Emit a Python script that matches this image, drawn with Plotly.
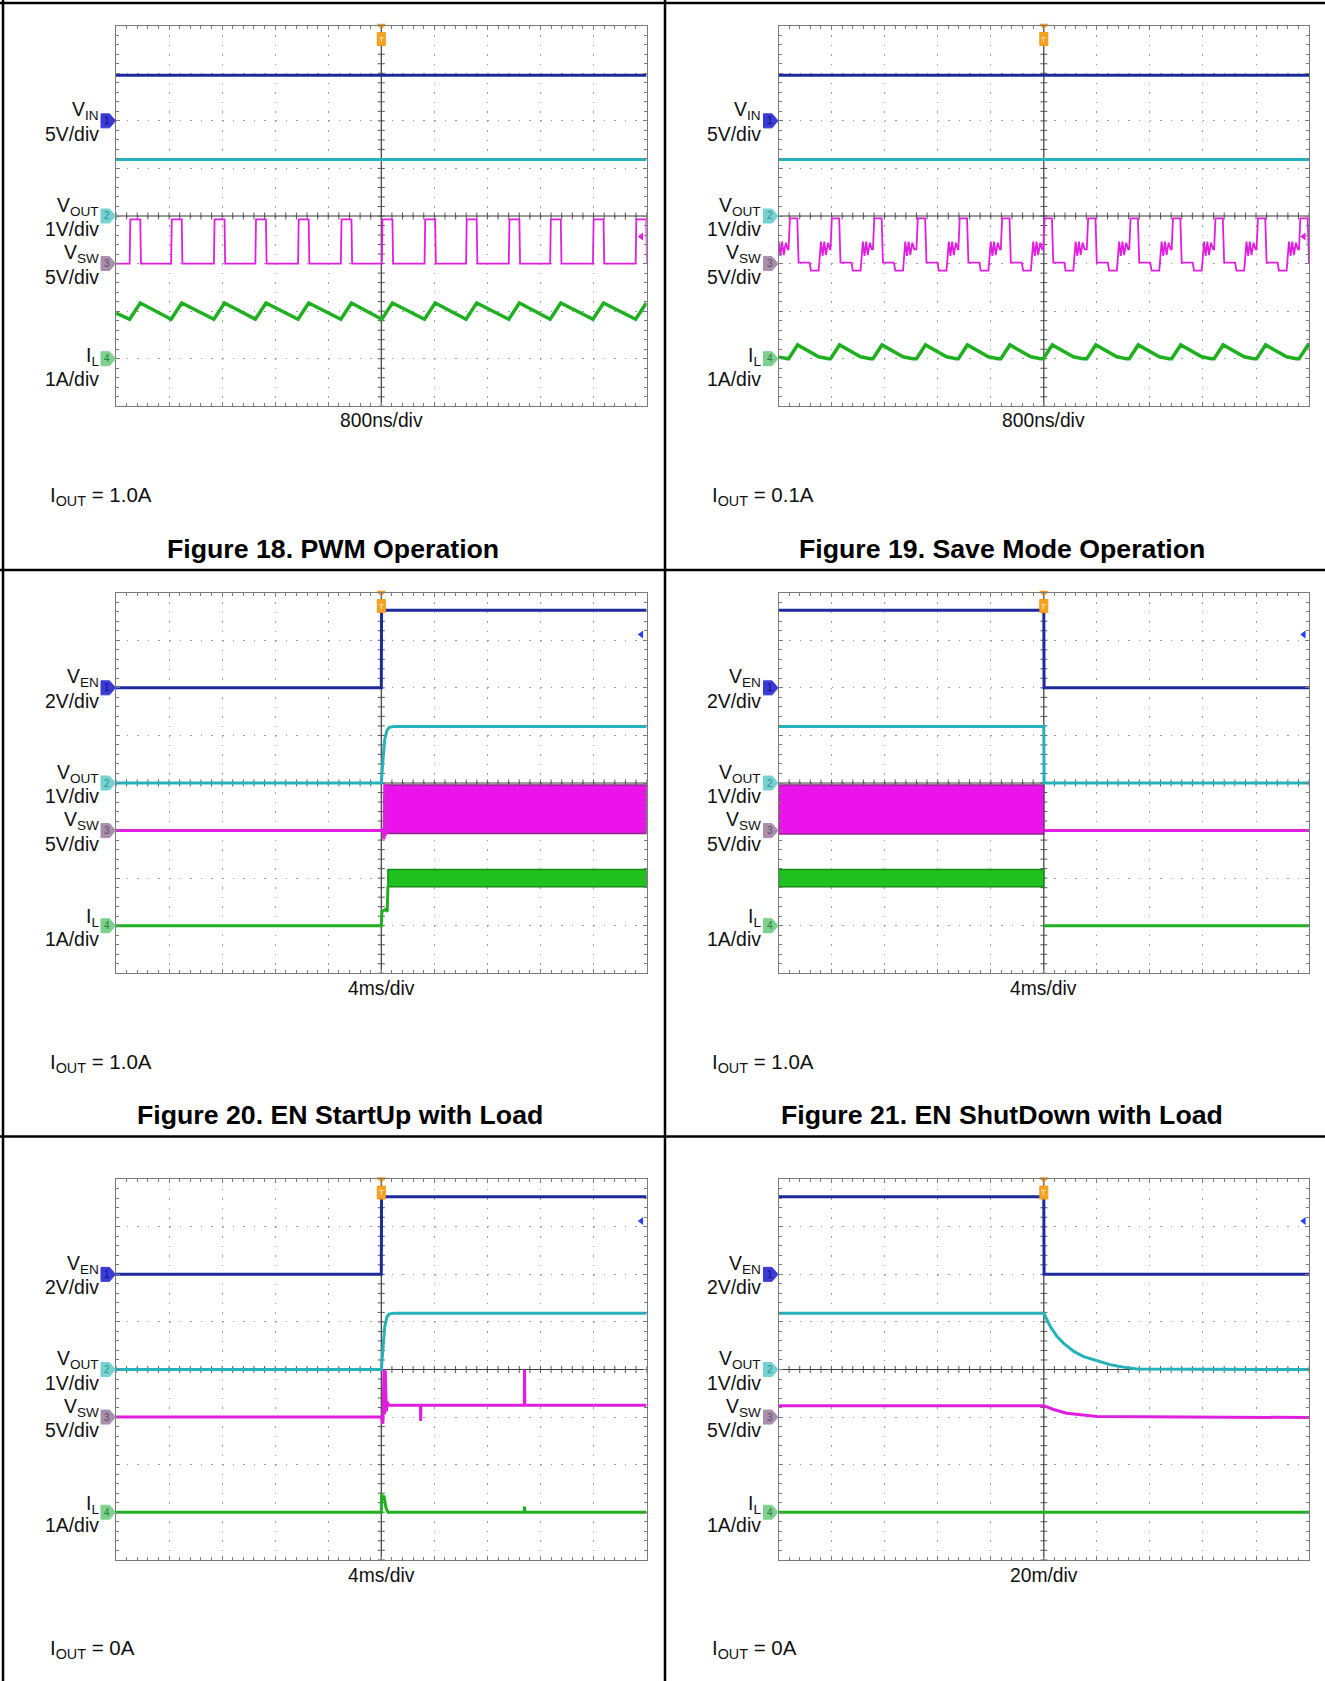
import numpy as np
import plotly.graph_objects as go

# ======================= data =======================
# Figure 18 - PWM operation (800 ns/div, IOUT = 1.0 A)
f18_vin_v = 4.8
f18_vout_v = 1.19
f18_sw_rise_ns = [-3794, -3169, -2524, -1899, -1255, -610, 8, 652, 1278, 1922, 2546, 3191, 3835]
f18_sw_on_ns = 160
f18_sw_levels_v = [0.0, 4.65]          # low, high
f18_il_start_a = 0.96
f18_il_levels_a = [0.83, 1.17]         # valley, peak

# Figure 19 - Save mode operation (800 ns/div, IOUT = 0.1 A)
f19_vin_v = 4.8
f19_vout_v = 1.19
f19_sw_rise_ns = [-4484, -3848, -3216, -2576, -1920, -1288, -648, -8, 648, 1288, 1928, 2568, 3208, 3848]
f19_sw_cycle_ns = [0, 20, 131, 151, 317, 337, 453, 473, 488, 513, 538, 563, 594, 624]
f19_sw_cycle_v = [1.5, 4.75, 4.75, 0.1, 0.1, -0.75, -0.75, 1.0, 2.3, 0.8, 2.3, 0.9, 2.2, 1.5]
f19_il_cycle_ns = [0, 136, 453, 600]
f19_il_cycle_a = [0.0, 0.29, 0.04, 0.0]

# Figure 20 - EN start-up with load (4 ms/div, IOUT = 1.0 A)
f20_ven_t = [-20, 0, 0.02, 20]
f20_ven_v = [0, 0, 3.26, 3.26]
f20_vout_t = [-20, 0, 0.1, 0.26, 0.42, 0.6, 1.0, 20]
f20_vout_v = [0, 0, 0.4, 0.92, 1.1, 1.17, 1.19, 1.19]
f20_sw_t = [-20, 0, 0.1, 0.2, 0.26, 0.3, 0.36, 0.42]
f20_sw_v = [0, 0, 0.2, -0.9, 4.9, -0.6, 4.9, -0.3]
f20_sw_band_t = [0.42, 20]
f20_sw_band_v = [-0.3, 4.8]            # low, high
f20_il_t = [-20, 0, 0.05, 0.3, 0.45, 0.5]
f20_il_a = [0, 0, 0.3, 0.34, 0.3, 0.84]
f20_il_band_t = [0.5, 20]
f20_il_band_a = [0.82, 1.18]

# Figure 21 - EN shut-down with load (4 ms/div, IOUT = 1.0 A)
f21_ven_t = [-20, 0, 0.02, 20]
f21_ven_v = [3.26, 3.26, 0, 0]
f21_vout_t = [-20, 0, 0.02, 20]
f21_vout_v = [1.19, 1.19, 0, 0]
f21_sw_t = [0, 20]
f21_sw_v = [0, 0]
f21_sw_band_t = [-20, 0]
f21_sw_band_v = [-0.35, 4.8]
f21_il_t = [0, 20]
f21_il_a = [0, 0]
f21_il_band_t = [-20, 0]
f21_il_band_a = [0.82, 1.18]

# Figure 22 - EN start-up without load (4 ms/div, IOUT = 0 A)
f22_ven_t = [-20, 0, 0.02, 20]
f22_ven_v = [0, 0, 3.26, 3.26]
f22_vout_t = [-20, 0, 0.1, 0.26, 0.42, 0.6, 1.0, 20]
f22_vout_v = [0, 0, 0.35, 0.9, 1.1, 1.17, 1.18, 1.18]
f22_sw_t = [-20, 0, 0.12, 0.2, 0.25, 0.3, 0.38, 0.45, 0.55, 2.95, 2.97, 2.99, 10.78, 10.8, 10.82, 20]
f22_sw_v = [0, 0, -0.7, 5.0, 0.3, 4.9, 0.6, 1.6, 1.25, 1.25, -0.4, 1.25, 1.25, 5.0, 1.25, 1.25]
f22_il_t = [-20, 0, 0.03, 0.1, 0.2, 0.35, 0.5, 10.78, 10.8, 10.83, 20]
f22_il_a = [0, 0, 0.4, 0.25, 0.35, 0.1, 0, 0, 0.12, 0, 0]

# Figure 23 - EN shut-down without load (20 ms/div, IOUT = 0 A)
f23_ven_t = [-100, 0, 0.1, 100]
f23_ven_v = [3.26, 3.26, 0, 0]
f23_vout_t = [-100, 0, 2.5, 5.0, 7.5, 11.3, 15.0, 20.1, 25.1, 30.1, 35.2, 100]
f23_vout_v = [1.18, 1.18, 0.90, 0.69, 0.55, 0.38, 0.27, 0.18, 0.10, 0.05, 0.01, 0.0]
f23_sw_t = [-100, 0, 3.7, 8.7, 20, 100]
f23_sw_v = [1.2, 1.2, 0.8, 0.4, 0.05, -0.05]
f23_il_t = [-100, 100]
f23_il_a = [0, 0]

# text
titles = ["Figure 18. PWM Operation", "Figure 19. Save Mode Operation",
          "Figure 20. EN StartUp with Load", "Figure 21. EN ShutDown with Load", None, None]
timebase = ["800ns/div", "800ns/div", "4ms/div", "4ms/div", "4ms/div", "20m/div"]
iout = ["1.0A", "0.1A", "1.0A", "1.0A", "0A", "0A"]
tdivs = [800, 800, 4, 4, 4, 20]

# ======================= styling / geometry =======================
W, H = 1325, 1681
FONT = "Liberation Sans, Arial, sans-serif"
C_CH1, C_CH2, C_CH3, C_CH4 = "#1c2a9c", "#26b2ba", "#e01ee0", "#1fb020"
TAG_FILL = ["#3a3ad6", "#74d2d2", "#a88fac", "#7ed08e"]
TAG_TXT = ["#101070", "#3d8a8a", "#5e4a62", "#2f7a3f"]
GND = [6, 4, 3, 1]          # ground level (div) of channels 1..4
PLOT_W, PLOT_H = 530.6, 380.6
lefts = [116.0, 778.5] * 3
tops = [25.7, 25.7, 592.7, 592.7, 1179.2, 1179.2]
col_text = [(50.4, 333.3), (711.7, 1002.0)]
row_text = [(421, 495.7, 549.4), (421, 495.7, 549.4), (988.8, 1062.5, 1115.3),
            (988.8, 1062.5, 1115.3), (1575.5, 1649.3, None), (1575.5, 1649.3, None)]
title_cx = [333.3, 1002.0, 340.0, 1002.0, 0, 0]

def px(x):
    return x / W

def py(y):
    return 1 - y / H

fig = go.Figure()
shapes, annos = [], []

def add_line(i, t, v, gnd, vdiv, color, width=3.0):
    x = 5 + np.asarray(t, float) / tdivs[i]
    y = gnd + np.asarray(v, float) / vdiv
    fig.add_trace(go.Scatter(x=x, y=y, mode="lines", line=dict(color=color, width=width),
                             xaxis=f"x{i+1}", yaxis=f"y{i+1}", hoverinfo="skip"))

def add_band(i, t, lohi, gnd, vdiv, fill, edge):
    t0, t1 = 5 + t[0] / tdivs[i], 5 + t[1] / tdivs[i]
    lo, hi = gnd + lohi[0] / vdiv, gnd + lohi[1] / vdiv
    fig.add_trace(go.Scatter(x=[t0, t1, t1, t0, t0], y=[lo, lo, hi, hi, lo], mode="lines",
                             fill="toself", fillcolor=fill, line=dict(color=edge, width=1.5),
                             xaxis=f"x{i+1}", yaxis=f"y{i+1}", hoverinfo="skip"))

for i in range(6):
    L, T = lefts[i], tops[i]
    xa = dict(domain=[px(L), px(L + PLOT_W)], range=[0, 10], showticklabels=False,
              showgrid=True, gridcolor="#9a9a9a", gridwidth=1, griddash="1.5px,8px",
              dtick=1, tick0=0, ticks="inside", ticklen=4, tickcolor="#7a7a7a",
              showline=True, linecolor="#7a7a7a", linewidth=1.2, mirror="ticks",
              zeroline=False, fixedrange=True,
              minor=dict(dtick=0.2, ticks="inside", ticklen=3, tickcolor="#7a7a7a", showgrid=False),
              anchor=f"y{i+1}")
    ya = dict(domain=[py(T + PLOT_H), py(T)], range=[0, 8], showticklabels=False,
              showgrid=True, gridcolor="#9a9a9a", gridwidth=1, griddash="1.5px,9.1px",
              dtick=1, tick0=0, ticks="inside", ticklen=4, tickcolor="#7a7a7a",
              showline=True, linecolor="#7a7a7a", linewidth=1.2, mirror="ticks",
              zeroline=False, fixedrange=True,
              minor=dict(dtick=0.2, ticks="inside", ticklen=3, tickcolor="#7a7a7a", showgrid=False),
              anchor=f"x{i+1}")
    fig.layout[f"xaxis{i+1}"] = xa
    fig.layout[f"yaxis{i+1}"] = ya
    xr, yr = f"x{i+1}", f"y{i+1}"

    # centre cross with ticks
    shapes.append(dict(type="line", xref=xr, yref=yr, x0=5, x1=5, y0=0, y1=8,
                       line=dict(color="#3a3a3a", width=1.2), layer="between"))
    shapes.append(dict(type="line", xref=xr, yref=yr, x0=0, x1=10, y0=4, y1=4,
                       line=dict(color="#3a3a3a", width=1.2), layer="between"))
    tx = np.arange(0, 10.001, 0.2)
    ty = np.arange(0, 8.001, 0.2)
    fig.add_trace(go.Scatter(x=tx, y=np.full_like(tx, 4.0), mode="markers",
                             marker=dict(symbol="line-ns", size=5, line=dict(color="#555555", width=1)),
                             xaxis=xr, yaxis=yr, hoverinfo="skip"))
    fig.add_trace(go.Scatter(x=np.full_like(ty, 5.0), y=ty, mode="markers",
                             marker=dict(symbol="line-ew", size=5, line=dict(color="#555555", width=1)),
                             xaxis=xr, yaxis=yr, hoverinfo="skip"))

    # channel tags + labels
    ch1_scale = 5 if i < 2 else 2
    names = ["V<sub>IN</sub>" if i < 2 else "V<sub>EN</sub>", "V<sub>OUT</sub>", "V<sub>SW</sub>", "I<sub>L</sub>"]
    scales = [f"{ch1_scale}V/div", "1V/div", "5V/div", "1A/div"]
    for c in range(4):
        tag_y = T + (8 - GND[c]) * PLOT_H / 8
        shapes.append(dict(type="path", xref="paper", yref="paper", xsizemode="pixel", ysizemode="pixel",
                           xanchor=px(L), yanchor=py(tag_y),
                           path="M -15,-7 L -6.5,-7 L -0.5,0 L -6.5,7 L -15,7 Z",
                           fillcolor=TAG_FILL[c], line=dict(color=TAG_FILL[c], width=1), layer="above"))
        annos.append(dict(xref="paper", yref="paper", x=px(L - 9), y=py(tag_y), text=str(c + 1),
                          showarrow=False, xanchor="center", yanchor="middle",
                          font=dict(family=FONT, size=10, color=TAG_TXT[c])))
        up, dn = (10, -13)
        if c == 3:
            up, dn = ((2, -20) if i < 2 else (8, -13))
        annos.append(dict(xref="paper", yref=yr, x=px(L - 15.5), y=GND[c], yshift=up, text=names[c],
                          showarrow=False, xanchor="right", yanchor="middle",
                          font=dict(family=FONT, size=19.4, color="#111111")))
        annos.append(dict(xref="paper", yref=yr, x=px(L - 15.5), y=GND[c], yshift=dn, text=scales[c],
                          showarrow=False, xanchor="right", yanchor="middle",
                          font=dict(family=FONT, size=19.4, color="#111111")))

    # trigger marker (orange) at top centre
    fig.add_trace(go.Scatter(x=[5], y=[8], mode="markers", cliponaxis=False,
                             marker=dict(symbol="triangle-down", size=8, color="#f39a1a"),
                             xaxis=xr, yaxis=yr, hoverinfo="skip"))
    shapes.append(dict(type="rect", xref=xr, yref=yr, xsizemode="pixel", ysizemode="pixel",
                       xanchor=5, yanchor=7.72, x0=-4, x1=4, y0=-6.5, y1=6.5,
                       fillcolor="#f7a322", line=dict(color="#f39a1a", width=1), layer="above"))
    annos.append(dict(xref=xr, yref=yr, x=5, y=7.72, text="T", showarrow=False,
                      font=dict(family=FONT, size=8, color="#fff2dc")))

    # trigger level arrow at right edge
    lvl, lc = (3.57, C_CH3) if i < 2 else (7.12, "#2a3cff")
    fig.add_trace(go.Scatter(x=[9.9], y=[lvl], mode="markers",
                             marker=dict(symbol="triangle-left", size=7, color=lc),
                             xaxis=xr, yaxis=yr, hoverinfo="skip"))

    # texts
    tb_y, io_y, ti_y = row_text[i]
    annos.append(dict(xref="paper", yref="paper", x=px(L + PLOT_W / 2), y=py(tb_y), text=timebase[i],
                      showarrow=False, xanchor="center", yanchor="middle",
                      font=dict(family=FONT, size=19.3, color="#111111")))
    annos.append(dict(xref="paper", yref="paper", x=px(col_text[i % 2][0] - 2), y=py(io_y),
                      text=f"I<sub>OUT</sub> = {iout[i]}", showarrow=False, xanchor="left", yanchor="middle",
                      font=dict(family=FONT, size=20.5, color="#111111")))
    if titles[i]:
        annos.append(dict(xref="paper", yref="paper", x=px(title_cx[i]), y=py(ti_y),
                          text=f"<b>{titles[i]}</b>", showarrow=False, xanchor="center", yanchor="middle",
                          font=dict(family=FONT, size=26.7, color="#000000")))

# ----------------- waveforms -----------------
# Fig 18
i = 0
add_line(i, [-4000, 4000], [f18_vin_v] * 2, GND[0], 5, C_CH1)
add_line(i, [-4000, 4000], [f18_vout_v] * 2, GND[1], 1, C_CH2)
lo, hi = f18_sw_levels_v
st, sv = [-4000], [lo]
for r in f18_sw_rise_ns:
    st += [r, r + 10, r + f18_sw_on_ns, r + f18_sw_on_ns + 10]
    sv += [lo, hi, hi, lo]
add_line(i, st, sv, GND[2], 5, C_CH3, 1.8)
it, iv = [-4000], [f18_il_start_a]
for r in f18_sw_rise_ns:
    it += [r, r + f18_sw_on_ns]
    iv += [f18_il_levels_a[0], f18_il_levels_a[1]]
add_line(i, it, iv, GND[3], 1, C_CH4, 3.5)

# Fig 19
i = 1
add_line(i, [-4000, 4000], [f19_vin_v] * 2, GND[0], 5, C_CH1)
add_line(i, [-4000, 4000], [f19_vout_v] * 2, GND[1], 1, C_CH2)
st, sv, it, iv = [], [], [], []
for r in f19_sw_rise_ns:
    st += [r + d for d in f19_sw_cycle_ns]
    sv += f19_sw_cycle_v
    it += [r + d for d in f19_il_cycle_ns]
    iv += f19_il_cycle_a
add_line(i, st, sv, GND[2], 5, C_CH3, 1.8)
add_line(i, it, iv, GND[3], 1, C_CH4, 3.5)

# Fig 20
i = 2
add_band(i, f20_sw_band_t, f20_sw_band_v, GND[2], 5, "#ec12ec", "#8a2a8a")
add_band(i, f20_il_band_t, f20_il_band_a, GND[3], 1, "#1fc21f", "#178a17")
add_line(i, f20_ven_t, f20_ven_v, GND[0], 2, C_CH1)
add_line(i, f20_vout_t, f20_vout_v, GND[1], 1, C_CH2)
add_line(i, f20_sw_t, f20_sw_v, GND[2], 5, C_CH3)
add_line(i, f20_il_t, f20_il_a, GND[3], 1, C_CH4)

# Fig 21
i = 3
add_band(i, f21_sw_band_t, f21_sw_band_v, GND[2], 5, "#ec12ec", "#8a2a8a")
add_band(i, f21_il_band_t, f21_il_band_a, GND[3], 1, "#1fc21f", "#178a17")
add_line(i, f21_ven_t, f21_ven_v, GND[0], 2, C_CH1)
add_line(i, f21_vout_t, f21_vout_v, GND[1], 1, C_CH2)
add_line(i, f21_sw_t, f21_sw_v, GND[2], 5, C_CH3)
add_line(i, f21_il_t, f21_il_a, GND[3], 1, C_CH4)

# Fig 22
i = 4
add_line(i, f22_ven_t, f22_ven_v, GND[0], 2, C_CH1)
add_line(i, f22_vout_t, f22_vout_v, GND[1], 1, C_CH2)
add_line(i, f22_sw_t, f22_sw_v, GND[2], 5, C_CH3)
add_line(i, f22_il_t, f22_il_a, GND[3], 1, C_CH4)

# Fig 23
i = 5
add_line(i, f23_ven_t, f23_ven_v, GND[0], 2, C_CH1)
add_line(i, f23_vout_t, f23_vout_v, GND[1], 1, C_CH2)
add_line(i, f23_sw_t, f23_sw_v, GND[2], 5, C_CH3)
add_line(i, f23_il_t, f23_il_a, GND[3], 1, C_CH4)

# ----------------- table borders -----------------
def pline(x0, y0, x1, y1):
    shapes.append(dict(type="line", xref="paper", yref="paper", x0=px(x0), y0=py(y0), x1=px(x1), y1=py(y1),
                       line=dict(color="#000000", width=2.5), layer="above"))

pline(3, 0, 3, H)
pline(0, 3, W, 3)
pline(665, 0, 665, H)
pline(0, 570, W, 570)
pline(0, 1136.5, W, 1136.5)

fig.update_layout(width=W, height=H, margin=dict(l=0, r=0, t=0, b=0), autosize=False,
                  paper_bgcolor="white", plot_bgcolor="white", showlegend=False,
                  shapes=shapes, annotations=annos)

fig.write_html("out.html", include_plotlyjs=True, full_html=True,
               config={"displayModeBar": False},
               post_script="document.body.style.margin='0';document.body.style.overflow='hidden';")
